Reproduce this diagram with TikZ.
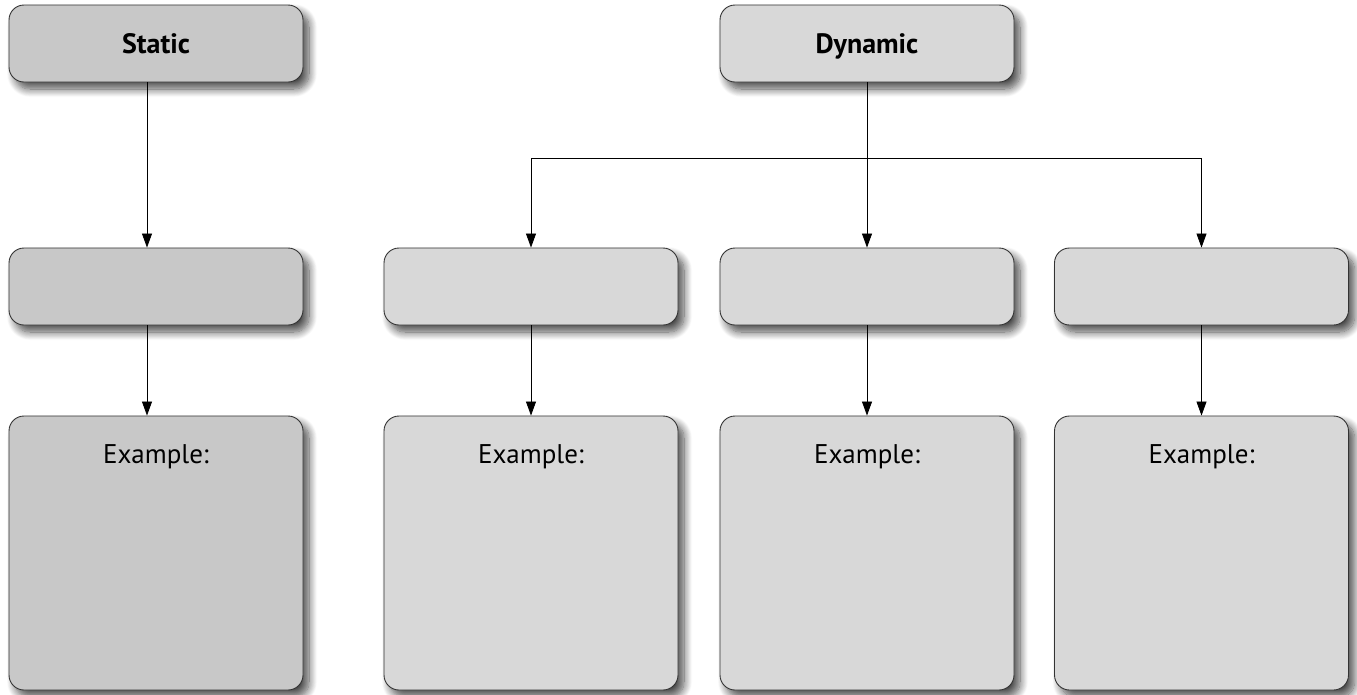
\documentclass[tikz,border=0pt]{standalone}
\usepackage{fontspec}
\setmainfont{PT Sans}
\usetikzlibrary{shadows.blur,arrows.meta,positioning}
\definecolor{statfill}{HTML}{C8C8C8}
\definecolor{dynfill}{HTML}{D8D8D8}
\definecolor{edge}{HTML}{333333}
\tikzset{
  box/.style={draw=edge, line width=0.9pt, rounded corners=15pt, minimum width=294pt, inner sep=0pt,
    blur shadow={shadow xshift=6pt, shadow yshift=-7pt, shadow blur radius=8pt, shadow opacity=70, shadow blur steps=12}},
  small/.style={box, minimum height=77pt},
  tall/.style={box, minimum height=274pt},
  st/.style={fill=statfill},
  dy/.style={fill=dynfill},
  conn/.style={line width=0.8pt, -{Triangle[width=10pt,length=14pt]}},
  head/.style={font=\bfseries\fontsize{28}{32}\selectfont, text height=20pt, text depth=0pt},
  ex/.style={font=\fontsize{27}{31}\selectfont, anchor=base, inner sep=0pt},
}
\begin{document}
\begin{tikzpicture}[x=1pt,y=-1pt]
\useasboundingbox (0,0) rectangle (1357,694);
\node[small,st,head] (s0) at (156,43.5) {Static};
\node[small,dy,head] (d0) at (867,43.5) {Dynamic};
\node[small,st] (s1) at (156,286.5) {};
\node[small,dy] (a1) at (531,286.5) {};
\node[small,dy] (b1) at (867,286.5) {};
\node[small,dy] (c1) at (1201.5,286.5) {};
\node[tall,st] (s2) at (156,553) {};
\node[tall,dy] (a2) at (531,553) {};
\node[tall,dy] (b2) at (867,553) {};
\node[tall,dy] (c2) at (1201.5,553) {};
\node[ex] (sx) at ([yshift=-48pt]s2.north) {Example:};
\node[ex] (ax) at ([yshift=-48pt]a2.north) {Example:};
\node[ex] (bx) at ([yshift=-48pt]b2.north) {Example:};
\node[ex] (cx) at ([yshift=-48pt]c2.north) {Example:};
\coordinate (j) at (867,158);
\draw[conn] (s0.south -| 147,0) -- (s1.north -| 147,0);
\draw[conn] (s1.south -| 147,0) -- (s2.north -| 147,0);
\draw[line width=0.8pt] (d0.south) -- (j);
\draw[conn] (j) -| (a1.north);
\draw[conn] (j) -- (b1.north);
\draw[conn] (j) -| (c1.north);
\draw[conn] (a1.south) -- (a2.north);
\draw[conn] (b1.south) -- (b2.north);
\draw[conn] (c1.south) -- (c2.north);
\end{tikzpicture}
\end{document}
